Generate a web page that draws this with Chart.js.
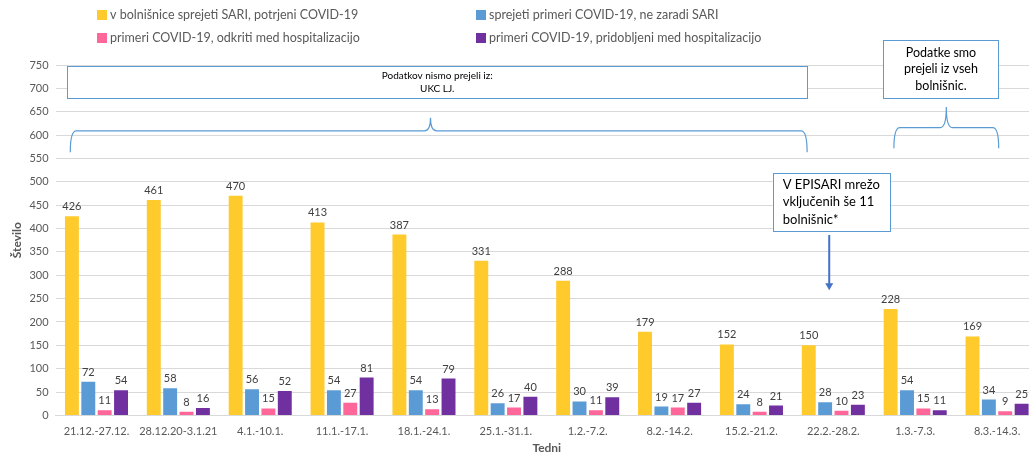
<!DOCTYPE html>
<html lang="sl">
<head>
    <meta charset="UTF-8">
    <title>SARI / COVID-19 po tednih</title>
    <script src="https://cdn.jsdelivr.net/npm/chart.js"></script>
    <style>
        html, body { margin: 0; padding: 0; background: #fff; overflow: hidden; }
        #wrap { position: relative; width: 1040px; height: 457px; }
    </style>
</head>
<body>
    <div id="wrap"><canvas id="myChart"></canvas></div>

    <script>
        const weeks = ['21.12.-27.12.', '28.12.20-3.1.21', '4.1.-10.1.', '11.1.-17.1.', '18.1.-24.1.', '25.1.-31.1.',
                       '1.2.-7.2.', '8.2.-14.2.', '15.2.-21.2.', '22.2.-28.2.', '1.3.-7.3.', '8.3.-14.3.'];
        const sariCovid = [426, 461, 470, 413, 387, 331, 288, 179, 152, 150, 228, 169];
        const covidNotSari = [72, 58, 56, 54, 54, 26, 30, 19, 24, 28, 54, 34];
        const detectedInHospital = [11, 8, 15, 27, 13, 17, 11, 17, 8, 10, 15, 9];
        const acquiredInHospital = [54, 16, 52, 81, 79, 40, 39, 27, 21, 23, 11, 25];
        const yTicks = [0, 50, 100, 150, 200, 250, 300, 350, 400, 450, 500, 550, 600, 650, 700, 750];

        const FONT = 'Lato, "Liberation Sans", sans-serif';
        const GREY = '#595959';

        // notes on the chart, placed in axis units (category index, value)
        const notes = {
            box1: { u0: -0.355, u1: 8.68, v0: 748, v1: 679, lines: ['Podatkov nismo prejeli iz:', 'UKC LJ.'], size: 10 },
            brace1: { u0: -0.32, u1: 8.68, peak: 4.08, vH: 609, vPeak: 637, vEnd: 563 },
            box2: { u0: 9.61, u1: 11.02, v0: 803, v1: 679, lines: ['Podatke smo', 'prejeli iz vseh', 'bolnišnic.'], size: 12.5 },
            brace2: { u0: 9.74, u1: 11.02, peak: 10.38, vH: 616, vPeak: 660, vEnd: 572 },
            box3: { u0: 8.26, u1: 9.69, v0: 519, v1: 394, lines: ['V EPISARI mrežo', 'vključenih še 11', 'bolnišnic*'], size: 13 },
            arrow: { u: 8.95, vFrom: 386, vTo: 268 }
        };

        const valueLabels = {
            id: 'valueLabels',
            afterDatasetsDraw(chart) {
                const ctx = chart.ctx;
                ctx.save();
                ctx.font = '11px ' + FONT;
                ctx.fillStyle = '#404040';
                ctx.textAlign = 'center';
                ctx.textBaseline = 'bottom';
                chart.data.datasets.forEach((ds, i) => {
                    chart.getDatasetMeta(i).data.forEach((bar, j) => {
                        ctx.fillText(ds.data[j], bar.x, bar.y - 4);
                    });
                });
                ctx.restore();
            }
        };

        const gridLegend = {
            id: 'gridLegend',
            afterDraw(chart) {
                const ctx = chart.ctx;
                const cols = [97, 476];
                const rows = [15, 38];
                ctx.save();
                ctx.font = '12.5px ' + FONT;
                ctx.textBaseline = 'middle';
                chart.data.datasets.forEach((ds, i) => {
                    const x = cols[i % 2], y = rows[Math.floor(i / 2)];
                    ctx.fillStyle = ds.backgroundColor;
                    ctx.fillRect(x, y - 5, 10, 10);
                    ctx.fillStyle = GREY;
                    ctx.fillText(ds.label, x + 13, y);
                });
                ctx.restore();
            }
        };

        const notesPlugin = {
            id: 'notes',
            afterDraw(chart) {
                const ctx = chart.ctx;
                const xs = chart.scales.x, ys = chart.scales.y;
                const X = u => xs.getPixelForValue(u);
                const Y = v => ys.getPixelForValue(v);
                ctx.save();

                function box(b, align) {
                    const x0 = X(b.u0), x1 = X(b.u1), y0 = Y(b.v0), y1 = Y(b.v1);
                    ctx.fillStyle = '#fff';
                    ctx.fillRect(x0, y0, x1 - x0, y1 - y0);
                    ctx.strokeStyle = '#5B9BD5';
                    ctx.lineWidth = 1;
                    ctx.strokeRect(Math.round(x0) + 0.5, Math.round(y0) + 0.5, Math.round(x1 - x0), Math.round(y1 - y0));
                    ctx.fillStyle = '#000';
                    ctx.font = b.size + 'px ' + FONT;
                    ctx.textBaseline = 'middle';
                    const lh = b.size * 1.33;
                    const cy = (y0 + y1) / 2;
                    b.lines.forEach((t, k) => {
                        const ty = cy + (k - (b.lines.length - 1) / 2) * lh;
                        if (align === 'left') {
                            ctx.textAlign = 'left';
                            ctx.fillText(t, x0 + 10, ty);
                        } else {
                            ctx.textAlign = 'center';
                            ctx.fillText(t, (x0 + x1) / 2, ty);
                        }
                    });
                }

                function brace(b) {
                    const x0 = X(b.u0), x1 = X(b.u1), px = X(b.peak);
                    const yH = Y(b.vH), yP = Y(b.vPeak), yE = Y(b.vEnd);
                    const r = 6;
                    ctx.strokeStyle = '#5B9BD5';
                    ctx.lineWidth = 1.2;
                    ctx.beginPath();
                    ctx.moveTo(x0, yE);
                    ctx.quadraticCurveTo(x0, yH, x0 + r, yH);
                    ctx.lineTo(px - r, yH);
                    ctx.quadraticCurveTo(px, yH, px, yP);
                    ctx.quadraticCurveTo(px, yH, px + r, yH);
                    ctx.lineTo(x1 - r, yH);
                    ctx.quadraticCurveTo(x1, yH, x1, yE);
                    ctx.stroke();
                }

                box(notes.box1);
                brace(notes.brace1);
                box(notes.box2);
                brace(notes.brace2);
                box(notes.box3, 'left');

                const a = notes.arrow;
                const ax = X(a.u), ay0 = Y(a.vFrom), ay1 = Y(a.vTo);
                ctx.strokeStyle = '#4472C4';
                ctx.fillStyle = '#4472C4';
                ctx.lineWidth = 2;
                ctx.beginPath();
                ctx.moveTo(ax, ay0);
                ctx.lineTo(ax, ay1 - 6);
                ctx.stroke();
                ctx.beginPath();
                ctx.moveTo(ax - 4, ay1 - 7);
                ctx.lineTo(ax + 4, ay1 - 7);
                ctx.lineTo(ax, ay1);
                ctx.closePath();
                ctx.fill();

                ctx.restore();
            }
        };

        new Chart(document.getElementById('myChart'), {
            type: 'bar',
            data: {
                labels: weeks,
                datasets: [
                    { label: 'v bolnišnice sprejeti SARI, potrjeni COVID-19', data: sariCovid, backgroundColor: '#FFCA2C' },
                    { label: 'sprejeti primeri COVID-19, ne zaradi SARI', data: covidNotSari, backgroundColor: '#5B9BD5' },
                    { label: 'primeri COVID-19, odkriti med hospitalizacijo', data: detectedInHospital, backgroundColor: '#FF6699' },
                    { label: 'primeri COVID-19, pridobljeni med hospitalizacijo', data: acquiredInHospital, backgroundColor: '#7030A0' }
                ]
            },
            options: {
                responsive: true,
                maintainAspectRatio: false,
                animation: false,
                layout: { padding: { top: 65, right: 2, left: 0, bottom: 0 } },
                datasets: { bar: { categoryPercentage: 0.8, barPercentage: 0.85 } },
                plugins: {
                    legend: { display: false },
                    tooltip: { enabled: false }
                },
                scales: {
                    x: {
                        grid: { display: false, drawTicks: false },
                        border: { color: '#d9d9d9' },
                        ticks: { color: GREY, font: { family: FONT, size: 11 }, maxRotation: 0, autoSkip: false, padding: 9 },
                        title: { display: true, text: 'Tedni', color: GREY, font: { family: FONT, size: 12, weight: 'bold' }, padding: { top: -6, bottom: 2 } }
                    },
                    y: {
                        min: 0,
                        max: 750,
                        afterBuildTicks: axis => { axis.ticks = yTicks.map(v => ({ value: v })); },
                        grid: { color: '#d9d9d9', drawTicks: false },
                        border: { display: false },
                        ticks: { color: GREY, font: { family: FONT, size: 11 }, padding: 7 },
                        title: { display: true, text: 'Število', color: GREY, font: { family: FONT, size: 12, weight: 'bold' }, padding: { top: 10, bottom: -2 } }
                    }
                }
            },
            plugins: [valueLabels, gridLegend, notesPlugin]
        });
    </script>
</body>
</html>
